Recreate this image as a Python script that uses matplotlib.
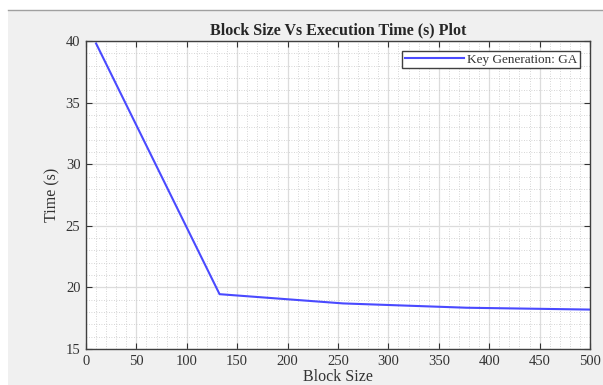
import numpy as np
import matplotlib.pyplot as plt
from matplotlib.patches import Rectangle
from matplotlib.lines import Line2D
from matplotlib.ticker import MultipleLocator

# data
block_size = [10, 132.5, 255, 377.5, 500]
exec_time = [39.8, 19.45, 18.7, 18.35, 18.2]
x_ticks = [0, 50, 100, 150, 200, 250, 300, 350, 400, 450, 500]
y_ticks = [15, 20, 25, 30, 35, 40]

plt.rcParams['font.family'] = ['Liberation Serif', 'DejaVu Serif']

W, H = 603, 385
fig = plt.figure(figsize=(W / 100, H / 100), dpi=100)
fig.set_facecolor("white")

# matlab-like gray window area
fig.patches.append(Rectangle((8 / W, 0), 1 - 8 / W, 1 - 10 / H, transform=fig.transFigure,
                             facecolor="#f0f0f0", edgecolor="none", zorder=-10))
fig.lines.append(Line2D([8 / W, 1], [1 - 10 / H, 1 - 10 / H], transform=fig.transFigure,
                        color="#a0a0a0", lw=1.0, zorder=-9))

ax = fig.add_axes([86 / W, 1 - 349 / H, (590 - 86) / W, (349 - 41) / H])
ax.set_facecolor("white")

ax.plot(block_size, exec_time, color="#4a4aff", lw=1.5, label="Key Generation: GA")

ax.set_xlim(0, 500)
ax.set_ylim(15, 40)
ax.set_xticks(x_ticks)
ax.set_yticks(y_ticks)
ax.xaxis.set_minor_locator(MultipleLocator(10))
ax.yaxis.set_minor_locator(MultipleLocator(1))

ax.grid(True, which="major", color="#dcdcdc", lw=0.9)
ax.grid(True, which="minor", color="#c8c8c8", lw=0.6, linestyle=(0, (1, 2)))
ax.set_axisbelow(True)

ax.tick_params(which="major", direction="in", length=4, top=True, right=True,
               labelsize=10.5, colors="#333333", width=0.8, pad=4)
ax.tick_params(which="minor", length=0)
for s in ax.spines.values():
    s.set_color("#404040")
    s.set_linewidth(1.0)

ax.set_title("Block Size Vs Execution Time (s) Plot", fontsize=11.5, fontweight="bold",
             color="#262626", pad=5)
ax.set_xlabel("Block Size", fontsize=11.5, color="#333333", labelpad=1)
ax.set_ylabel("Time (s)", fontsize=11.5, color="#333333", labelpad=4)

leg = ax.legend(loc="upper right", fontsize=9.5, fancybox=False, framealpha=1,
                edgecolor="#404040", borderpad=0.2, handlelength=4.5, handletextpad=0.2,
                borderaxespad=0.75)
leg.get_frame().set_linewidth(1.0)
for t in leg.get_texts():
    t.set_color("#333333")

plt.savefig("out.png", dpi=100)
